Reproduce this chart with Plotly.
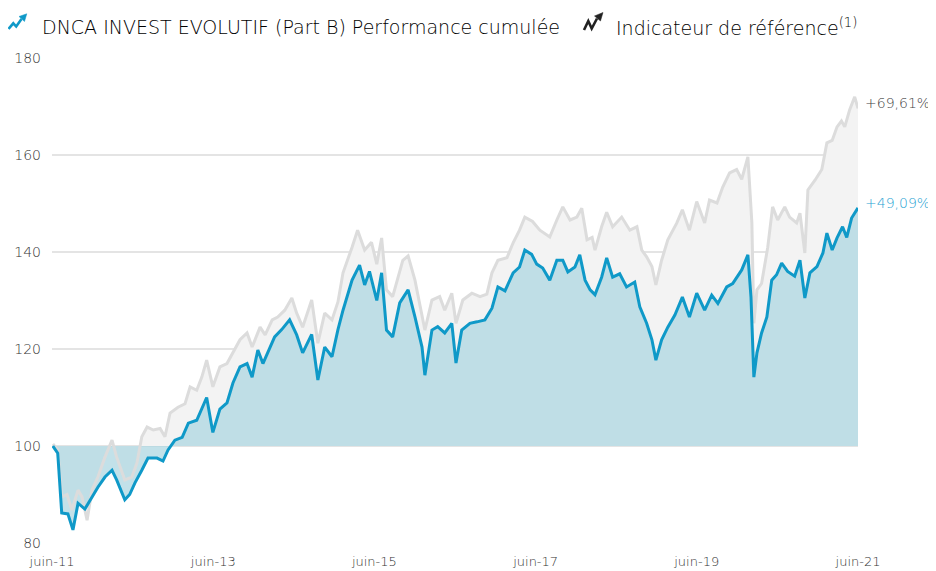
import plotly.graph_objects as go

# ---------------- data ----------------
fund_dates = [
    "2011-06-05", "2011-06-27", "2011-07-15", "2011-08-12", "2011-09-04", "2011-09-27",
    "2011-10-28", "2011-11-29", "2011-12-26", "2012-01-27", "2012-02-28", "2012-03-20",
    "2012-04-26", "2012-05-18", "2012-06-11", "2012-07-12", "2012-08-09", "2012-09-19",
    "2012-10-16", "2012-11-08", "2012-12-09", "2013-01-11", "2013-02-08", "2013-03-18",
    "2013-04-10", "2013-05-02", "2013-05-30", "2013-07-01", "2013-08-02", "2013-08-29",
    "2013-09-30", "2013-11-01", "2013-11-24", "2013-12-20", "2014-01-12", "2014-02-14",
    "2014-03-06", "2014-04-07", "2014-05-13", "2014-06-14", "2014-07-11", "2014-08-21",
    "2014-09-18", "2014-10-19", "2014-11-21", "2014-12-18", "2015-01-10", "2015-02-20",
    "2015-03-26", "2015-04-18", "2015-05-10", "2015-06-12", "2015-07-04", "2015-07-26",
    "2015-08-23", "2015-09-24", "2015-11-01", "2015-12-02", "2016-01-03", "2016-01-16",
    "2016-02-17", "2016-03-14", "2016-04-15", "2016-05-17", "2016-06-05", "2016-07-01",
    "2016-08-07", "2016-09-08", "2016-10-14", "2016-11-15", "2016-12-12", "2017-01-13",
    "2017-02-19", "2017-03-20", "2017-04-13", "2017-05-14", "2017-06-06", "2017-07-03",
    "2017-08-04", "2017-09-05", "2017-10-02", "2017-10-25", "2017-11-26", "2017-12-18",
    "2018-01-11", "2018-02-03", "2018-02-25", "2018-03-27", "2018-04-19", "2018-05-16",
    "2018-06-17", "2018-07-18", "2018-08-24", "2018-09-16", "2018-10-17", "2018-11-10",
    "2018-11-28", "2018-12-24", "2019-01-21", "2019-02-22", "2019-03-28", "2019-04-29",
    "2019-06-01", "2019-07-07", "2019-08-08", "2019-09-05", "2019-10-15", "2019-11-11",
    "2019-12-22", "2020-01-19", "2020-02-02", "2020-02-15", "2020-02-29", "2020-03-21",
    "2020-04-14", "2020-05-06", "2020-05-28", "2020-06-20", "2020-07-17", "2020-08-18",
    "2020-09-11", "2020-10-03", "2020-10-26", "2020-11-27", "2020-12-24", "2021-01-11",
    "2021-02-04", "2021-02-26", "2021-03-23", "2021-04-11", "2021-05-03", "2021-06-01",
]
fund_values = [
    100.0, 98.5, 86.2, 86.0, 82.7, 88.2,
    87.0, 89.5, 91.5, 93.6, 95.0, 93.0,
    88.9, 90.0, 92.4, 95.0, 97.5, 97.5,
    96.9, 99.2, 101.2, 101.8, 104.7, 105.3,
    107.8, 110.0, 102.8, 107.6, 108.9, 113.0,
    116.3, 117.0, 114.2, 119.8, 117.0, 120.5,
    122.5, 124.0, 126.0, 122.9, 119.2, 123.0,
    113.6, 120.4, 118.4, 124.0, 128.0, 134.2,
    137.3, 133.2, 136.0, 130.0, 135.7, 123.9,
    122.5, 129.5, 132.2, 126.6, 120.4, 114.6,
    123.9, 124.6, 123.3, 125.3, 117.1, 123.9,
    125.3, 125.6, 126.0, 128.4, 132.8, 132.0,
    135.7, 136.9, 140.4, 139.5, 137.5, 136.7,
    134.2, 138.3, 138.3, 135.9, 136.9, 139.4,
    134.2, 132.2, 131.2, 134.8, 138.8, 134.8,
    135.5, 132.8, 133.8, 128.7, 125.3, 121.9,
    117.7, 121.9, 124.5, 127.0, 130.7, 126.6,
    131.5, 128.0, 131.1, 129.4, 132.8, 133.5,
    136.3, 139.4, 130.7, 114.2, 119.2, 123.3,
    126.6, 134.2, 135.3, 137.7, 136.0, 135.0,
    138.3, 130.5, 135.7, 137.0, 139.8, 143.9,
    140.4, 142.9, 145.2, 143.0, 147.0, 149.09,
]

bench_dates = [
    "2011-06-05", "2011-06-27", "2011-07-15", "2011-08-08", "2011-08-30", "2011-09-27",
    "2011-10-15", "2011-11-07", "2011-11-29", "2011-12-26", "2012-01-27", "2012-02-28",
    "2012-03-20", "2012-04-26", "2012-05-28", "2012-06-20", "2012-07-12", "2012-08-05",
    "2012-09-02", "2012-10-03", "2012-10-25", "2012-11-17", "2012-12-23", "2013-01-24",
    "2013-02-16", "2013-03-18", "2013-04-10", "2013-05-02", "2013-05-30", "2013-07-01",
    "2013-08-02", "2013-08-29", "2013-09-30", "2013-11-01", "2013-11-24", "2013-12-30",
    "2014-01-22", "2014-02-23", "2014-03-20", "2014-04-21", "2014-05-23", "2014-06-14",
    "2014-07-11", "2014-08-21", "2014-09-18", "2014-10-19", "2014-11-21", "2014-12-18",
    "2015-01-10", "2015-02-20", "2015-03-17", "2015-04-18", "2015-05-19", "2015-06-12",
    "2015-07-04", "2015-07-26", "2015-08-23", "2015-10-08", "2015-11-01", "2015-12-02",
    "2016-01-03", "2016-01-16", "2016-02-17", "2016-03-23", "2016-04-15", "2016-05-17",
    "2016-06-05", "2016-07-06", "2016-08-16", "2016-09-22", "2016-10-23", "2016-11-15",
    "2016-12-12", "2017-01-22", "2017-02-19", "2017-03-20", "2017-04-13", "2017-05-18",
    "2017-06-20", "2017-08-04", "2017-09-05", "2017-10-02", "2017-11-04", "2017-12-05",
    "2017-12-27", "2018-01-20", "2018-02-12", "2018-02-25", "2018-03-27", "2018-04-19",
    "2018-05-16", "2018-06-26", "2018-08-02", "2018-09-03", "2018-09-25", "2018-10-17",
    "2018-11-10", "2018-11-28", "2018-12-24", "2019-01-21", "2019-03-03", "2019-03-28",
    "2019-04-29", "2019-06-01", "2019-07-07", "2019-07-29", "2019-09-01", "2019-09-27",
    "2019-10-28", "2019-11-29", "2019-12-22", "2020-01-19", "2020-02-06", "2020-02-15",
    "2020-02-29", "2020-03-21", "2020-04-18", "2020-05-10", "2020-06-02", "2020-07-04",
    "2020-07-26", "2020-08-27", "2020-09-11", "2020-10-03", "2020-10-17", "2020-11-18",
    "2020-12-19", "2021-01-11", "2021-02-04", "2021-02-26", "2021-03-18", "2021-04-02",
    "2021-04-24", "2021-05-17", "2021-06-01",
]
bench_values = [
    100.4, 99.2, 89.5, 90.0, 86.8, 90.9,
    89.5, 84.7, 90.9, 93.6, 97.7, 101.2,
    97.7, 93.0, 93.6, 96.5, 101.9, 103.9,
    103.3, 103.6, 101.9, 106.8, 108.0, 108.7,
    112.2, 111.5, 114.2, 117.7, 112.2, 116.3,
    117.0, 119.2, 121.9, 123.3, 120.4, 124.5,
    122.9, 126.0, 126.6, 128.0, 130.5, 127.4,
    124.5, 130.1, 121.2, 127.4, 126.0, 129.7,
    135.7, 141.0, 144.5, 140.4, 142.0, 137.5,
    142.9, 132.2, 130.8, 138.3, 139.2, 134.2,
    126.6, 123.9, 130.1, 130.8, 128.0, 131.5,
    125.3, 130.1, 131.5, 130.8, 131.3, 135.7,
    138.3, 138.8, 141.9, 144.5, 147.2, 146.3,
    144.5, 143.1, 146.6, 149.3, 146.6, 147.2,
    149.0, 142.5, 143.0, 140.4, 145.2, 148.2,
    145.2, 147.2, 144.5, 145.2, 140.4, 139.0,
    137.0, 133.2, 138.3, 142.5, 146.0, 148.7,
    144.5, 150.4, 146.0, 150.7, 150.1, 153.4,
    156.3, 157.0, 155.0, 159.6, 146.0, 125.3,
    132.2, 133.5, 141.0, 149.3, 146.6, 149.3,
    147.2, 146.0, 148.0, 139.8, 152.8, 154.8,
    157.0, 162.5, 163.0, 165.8, 167.0, 165.8,
    169.3, 172.0, 169.61,
]

fund_name = "DNCA INVEST EVOLUTIF (Part B) Performance cumulée"
bench_name = "Indicateur de référence<sup>(1)</sup>"
fund_label = "+49,09%"
bench_label = "+69,61%"
base_level = 100

y_ticks = [80, 100, 120, 140, 160, 180]
x_tick_dates = ["2011-06-01", "2013-06-01", "2015-06-01", "2017-06-01", "2019-06-01", "2021-06-01"]
x_tick_text = ["juin-11", "juin-13", "juin-15", "juin-17", "juin-19", "juin-21"]

# ---------------- style ----------------
BLUE = "#0f99c8"
BLUE_FILL = "#c0dfe7"
BLUE_TXT = "#1fa3d3"
GREY_LINE = "#dcdcdc"
GREY_FILL = "#f3f3f3"
GRID = "#e4e4e4"
FONT = "DejaVu Sans"

OFF = 8  # default page margin around the figure
W, H = 936 - OFF, 571 - OFF
ML, MR, MT, MB = 52 - OFF, 78, 58 - OFF, 28
PW, PH = W - ML - MR, H - MT - MB


def px(x):
    """page pixel x -> paper fraction"""
    return (x - OFF - ML) / PW


def py(y):
    """page pixel y -> paper fraction"""
    return (H - MB - (y - OFF)) / PH


fig = go.Figure()

# benchmark area to the 100 base
fig.add_trace(go.Scatter(x=bench_dates, y=[base_level] * len(bench_dates), mode="lines",
                         line=dict(width=0, color=GREY_FILL), hoverinfo="skip", showlegend=False))
fig.add_trace(go.Scatter(x=bench_dates, y=bench_values, mode="lines", fill="tonexty",
                         fillcolor=GREY_FILL, line=dict(width=0, color=GREY_FILL),
                         hoverinfo="skip", showlegend=False))
# fund area to the 100 base
fig.add_trace(go.Scatter(x=fund_dates, y=[base_level] * len(fund_dates), mode="lines",
                         line=dict(width=0, color=BLUE_FILL), hoverinfo="skip", showlegend=False))
fig.add_trace(go.Scatter(x=fund_dates, y=fund_values, mode="lines", fill="tonexty",
                         fillcolor="rgba(170,213,225,0.72)", line=dict(width=0, color=BLUE_FILL),
                         hoverinfo="skip", showlegend=False))
# lines
fig.add_trace(go.Scatter(x=bench_dates, y=bench_values, mode="lines", name="Indicateur de référence",
                         line=dict(width=3, color=GREY_LINE), showlegend=False))
fig.add_trace(go.Scatter(x=fund_dates, y=fund_values, mode="lines", name=fund_name,
                         line=dict(width=3, color=BLUE), showlegend=False))

annotations = [
    dict(x=1, xref="paper", y=bench_values[-1], yref="y", text=bench_label, showarrow=False,
         xanchor="left", yanchor="middle", xshift=5, yshift=5,
         font=dict(family=FONT, size=14, color="#444444", weight=300)),
    dict(x=1, xref="paper", y=fund_values[-1], yref="y", text=fund_label, showarrow=False,
         xanchor="left", yanchor="middle", xshift=5, yshift=5,
         font=dict(family=FONT, size=14, color=BLUE_TXT, weight=300)),
    dict(x=px(40), xref="paper", y=py(27), yref="paper", text=fund_name, showarrow=False,
         xanchor="left", yanchor="middle",
         font=dict(family=FONT, size=19, color="#000000", weight=300)),
    dict(x=px(614), xref="paper", y=py(27), yref="paper", text=bench_name, showarrow=False,
         xanchor="left", yanchor="middle",
         font=dict(family=FONT, size=19, color="#000000", weight=300)),
]


def path(points, close=False):
    s = "M " + " L ".join(f"{px(a):.5f},{py(b):.5f}" for a, b in points)
    return s + (" Z" if close else "")


icons = [
    (BLUE, [(8.5, 29), (13.3, 23.3), (16.2, 26.5), (21.5, 19)], [(19, 16.5), (26.8, 13.8), (24.5, 21.5)]),
    ("#222222", [(584, 30), (588.3, 21), (591.7, 28.5), (597, 18.5)], [(594.5, 16), (603, 12.5), (600.5, 21)]),
]
shapes = []
for col, zig, tri in icons:
    shapes.append(dict(type="path", xref="paper", yref="paper", path=path(zig),
                       line=dict(color=col, width=2.6)))
    shapes.append(dict(type="path", xref="paper", yref="paper", path=path(tri, True),
                       fillcolor=col, line=dict(color=col, width=0.5)))

fig.update_layout(
    width=W, height=H,
    margin=dict(l=ML, r=MR, t=MT, b=MB, autoexpand=False),
    paper_bgcolor="white", plot_bgcolor="white",
    showlegend=False,
    annotations=annotations,
    shapes=shapes,
    xaxis=dict(range=[x_tick_dates[0], x_tick_dates[-1]], tickmode="array",
               tickvals=x_tick_dates, ticktext=x_tick_text, showgrid=False,
               zeroline=False, showline=False, ticks="", ticklabelstandoff=9,
               automargin=False,
               tickfont=dict(family=FONT, size=13, color="#333333", weight=300)),
    yaxis=dict(range=[y_ticks[0], y_ticks[-1]], tickmode="array", tickvals=y_ticks,
               showgrid=True, gridcolor=GRID, gridwidth=1.5, zeroline=False, showline=False,
               ticks="", ticklabelstandoff=10, automargin=False,
               tickfont=dict(family=FONT, size=14, color="#333333", weight=300)),
)

fig.write_html("out.html")
